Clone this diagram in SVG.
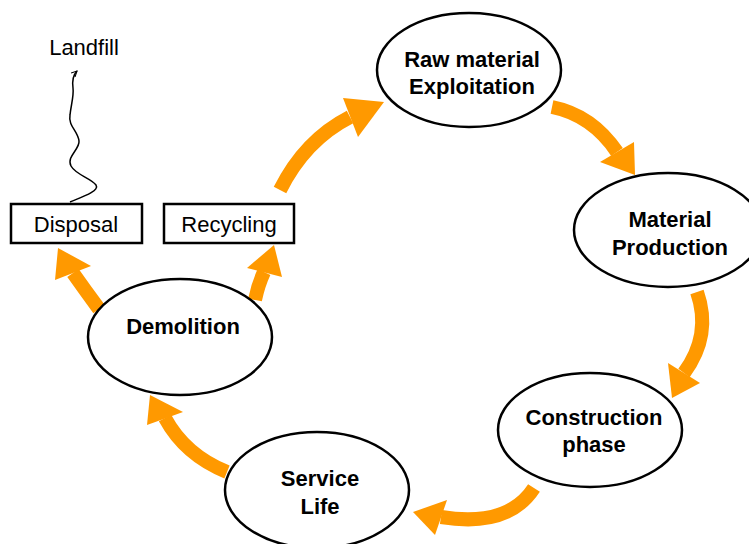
<svg xmlns="http://www.w3.org/2000/svg" width="749" height="544" viewBox="0 0 749 544">
  <style>
    .stage ellipse { fill: #ffffff; stroke: #000000; stroke-width: 2.5; }
    .stage text { font-family: "Liberation Sans", Arial, sans-serif; font-weight: bold; font-size: 22px; text-anchor: middle; fill: #000000; }
    .box rect { fill: #ffffff; stroke: #000000; stroke-width: 2.5; }
    .box text, .label { font-family: "Liberation Sans", Arial, sans-serif; font-size: 22px; text-anchor: middle; fill: #000000; }
    .flow path { fill: none; stroke: #FF9900; stroke-width: 14; stroke-linecap: butt; }
    .flow polygon { fill: #FF9900; }
    .wave { fill: none; stroke: #000000; stroke-width: 1.5; }
  </style>
  <defs>
    <marker id="openHead" viewBox="0 0 10 10" refX="9" refY="5" markerWidth="7" markerHeight="7" orient="auto" markerUnits="userSpaceOnUse">
      <path d="M1,1 L9,5 L1,9" fill="none" stroke="#000000" stroke-width="1.5"/>
    </marker>
  </defs>

  <rect width="749" height="544" fill="#ffffff"/>

  <!-- life-cycle connectors -->
  <g id="connectors" class="flow">
    <!-- Recycling -> Raw material -->
    <path d="M280,190 Q305,140 350,117"/>
    <polygon points="384,102 343,98 358,137"/>
    <!-- Raw material -> Material production -->
    <path d="M552,107 Q592,115 617,152"/>
    <polygon points="635,175 600,162 634,142"/>
    <!-- Material production -> Construction -->
    <path d="M697,292 Q712,335 684,373"/>
    <polygon points="672,398 668,363 700,383"/>
    <!-- Construction -> Service life -->
    <path d="M534,488 Q508,528 441,517"/>
    <polygon points="413,512 447,500 435,535"/>
    <!-- Service life -> Demolition -->
    <path d="M227,472 Q185,455 165,418"/>
    <polygon points="150,395 147,425 183,412"/>
    <!-- Demolition -> Disposal -->
    <path d="M99,309 Q85,290 73,273"/>
    <polygon points="58,248 55,280 91,266"/>
    <!-- Demolition -> Recycling -->
    <path d="M255,300 Q258,285 264,272"/>
    <polygon points="274,245 247,268 282,277"/>
  </g>

  <!-- landfill path -->
  <g id="landfill">
    <path class="wave" marker-end="url(#openHead)" d="M70,202 C82,197 100,191 96,185 C91,178 76,175 71,166 C66,157 80,149 79,141 C78,131 68,126 70,115 C71,105 74,96 73,88 C72,80 73,75 77,71"/>
    <text class="label" x="84" y="55">Landfill</text>
  </g>

  <g id="disposal" class="box">
    <rect x="11" y="204" width="131" height="39"/>
    <text x="76" y="232">Disposal</text>
  </g>

  <g id="recycling" class="box">
    <rect x="164" y="204" width="130" height="39"/>
    <text x="229" y="232">Recycling</text>
  </g>

  <g id="raw-material" class="stage">
    <ellipse cx="469" cy="70" rx="92" ry="57"/>
    <text x="472" y="67">Raw material</text>
    <text x="472" y="94">Exploitation</text>
  </g>

  <g id="material-production" class="stage">
    <ellipse cx="668" cy="230" rx="94" ry="57"/>
    <text x="670" y="227">Material</text>
    <text x="670" y="255">Production</text>
  </g>

  <g id="construction" class="stage">
    <ellipse cx="590" cy="430" rx="92" ry="57"/>
    <text x="594" y="425">Construction</text>
    <text x="594" y="452">phase</text>
  </g>

  <g id="service-life" class="stage">
    <ellipse cx="317" cy="490" rx="92" ry="58"/>
    <text x="320" y="486">Service</text>
    <text x="320" y="514">Life</text>
  </g>

  <g id="demolition" class="stage">
    <ellipse cx="180" cy="337" rx="92" ry="58"/>
    <text x="183" y="334">Demolition</text>
  </g>
</svg>
